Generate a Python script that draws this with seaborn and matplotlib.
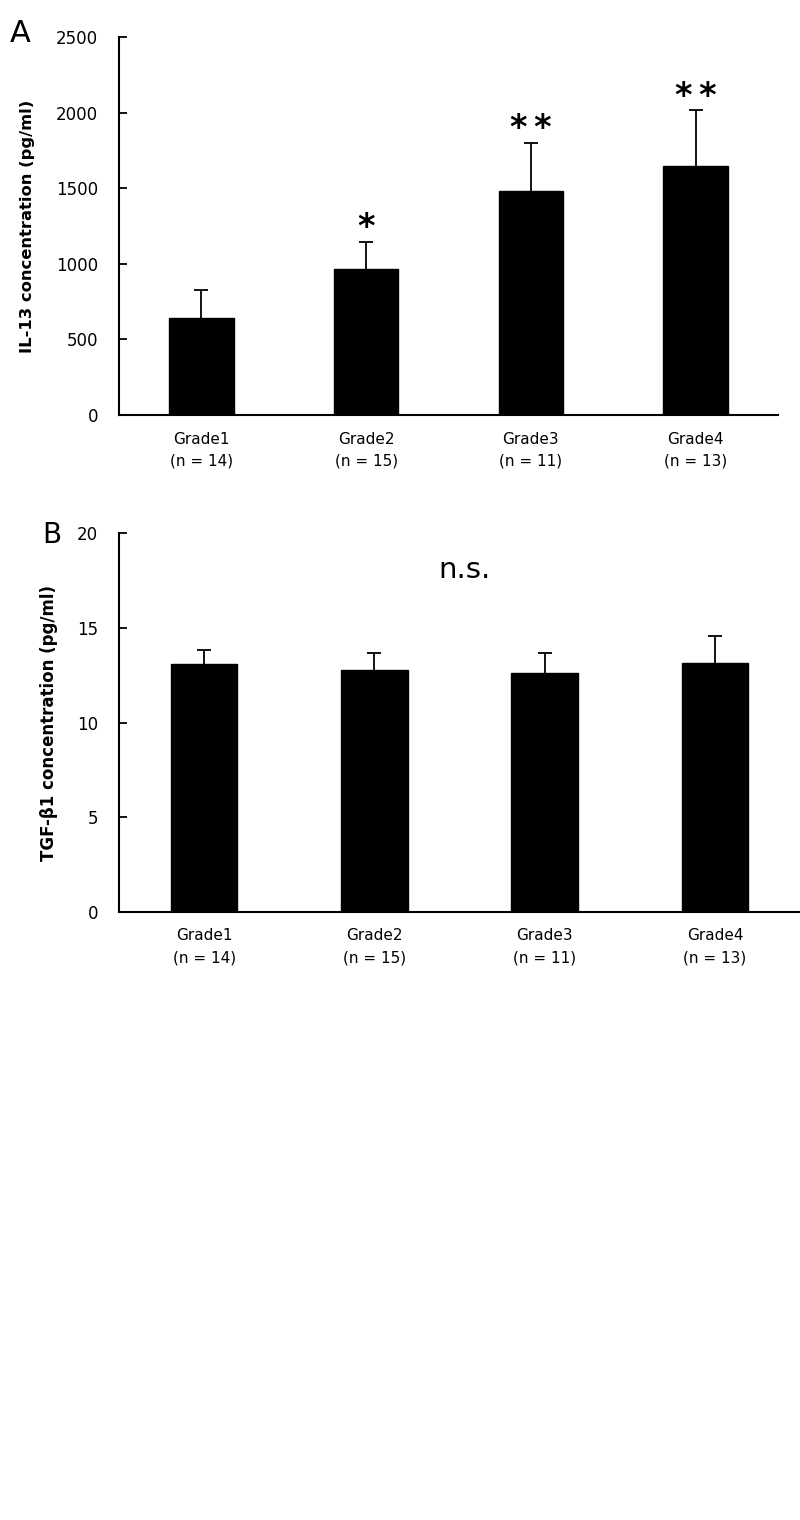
import numpy as np
import pandas as pd
import matplotlib
matplotlib.use("Agg")
import matplotlib.pyplot as plt
import seaborn as sns

# values
grades = ["Grade1", "Grade2", "Grade3", "Grade4"]
n_labels = ["(n = 14)", "(n = 15)", "(n = 11)", "(n = 13)"]
il13_mean = [643, 963, 1481, 1649]
il13_err = [185, 180, 320, 366]
il13_stars = ["", "*", "*\u2009*", "*\u2009*"]
tgf_mean = [13.08, 12.79, 12.62, 13.15]
tgf_err = [0.74, 0.87, 1.04, 1.42]

sns.set_theme(style="white")
plt.rcParams["font.family"] = ["DejaVu Sans"]
plt.rcParams["text.color"] = "black"
plt.rcParams["axes.labelcolor"] = "black"

tick_labels = [g + "\n" + n for g, n in zip(grades, n_labels)]


def panel(ax, means, errs, ymax, ystep, ylabel, label_x, label_size):
    df = pd.DataFrame({"grade": tick_labels, "value": means})
    sns.barplot(data=df, x="grade", y="value", color="black", width=0.39,
                errorbar=None, ax=ax, saturation=1, edgecolor="black")
    eb = ax.errorbar(range(len(means)), means,
                     yerr=[np.zeros(len(errs)), errs],
                     fmt="none", ecolor="black", elinewidth=1.3, capsize=5,
                     capthick=1.3)
    # only the upper cap is drawn
    eb[1][0].set_visible(False)
    ax.set_xlim(-0.5, len(means) - 0.5)
    ax.set_ylim(0, ymax)
    ax.set_yticks(np.arange(0, ymax + ystep / 2, ystep))
    ax.set_xlabel("")
    ax.set_ylabel(ylabel, fontsize=label_size, fontweight="bold")
    ax.yaxis.set_label_coords(label_x, 0.5)
    sns.despine(ax=ax)
    for s in ["left", "bottom"]:
        ax.spines[s].set_linewidth(1.5)
        ax.spines[s].set_color("black")
    ax.tick_params(axis="y", direction="in", length=6, width=1.3,
                   left=True, pad=15, labelsize=12, colors="black")
    ax.tick_params(axis="x", length=0, pad=12, labelsize=11, colors="black")
    for t in ax.get_xticklabels():
        t.set_linespacing(1.6)


fig = plt.figure(figsize=(8, 15.2), dpi=100)
ax1 = fig.add_axes([0.14875, 0.727, 0.82375, 0.2487])
ax2 = fig.add_axes([0.14875, 0.4002, 0.85125, 0.2489])

panel(ax1, il13_mean, il13_err, 2500, 500, "IL-13 concentration (pg/ml)",
      -0.1275, 11.8)
panel(ax2, tgf_mean, tgf_err, 20, 5, "TGF-\u03b21 concentration (pg/ml)",
      -0.0896, 12)

for i, (m, e, s) in enumerate(zip(il13_mean, il13_err, il13_stars)):
    if s:
        ax1.text(i, m + e - 15, s, ha="center", va="bottom", fontsize=24,
                 fontweight="bold")

ax2.text(0.508, 0.903, "n.s.", transform=ax2.transAxes, ha="center",
         va="center", fontsize=21)

fig.text(0.012, 1 - 42 / 1520, "A", fontsize=22)
fig.text(42 / 800, 1 - 543 / 1520, "B", fontsize=20)

fig.savefig("out.png", dpi=100, facecolor="white")
